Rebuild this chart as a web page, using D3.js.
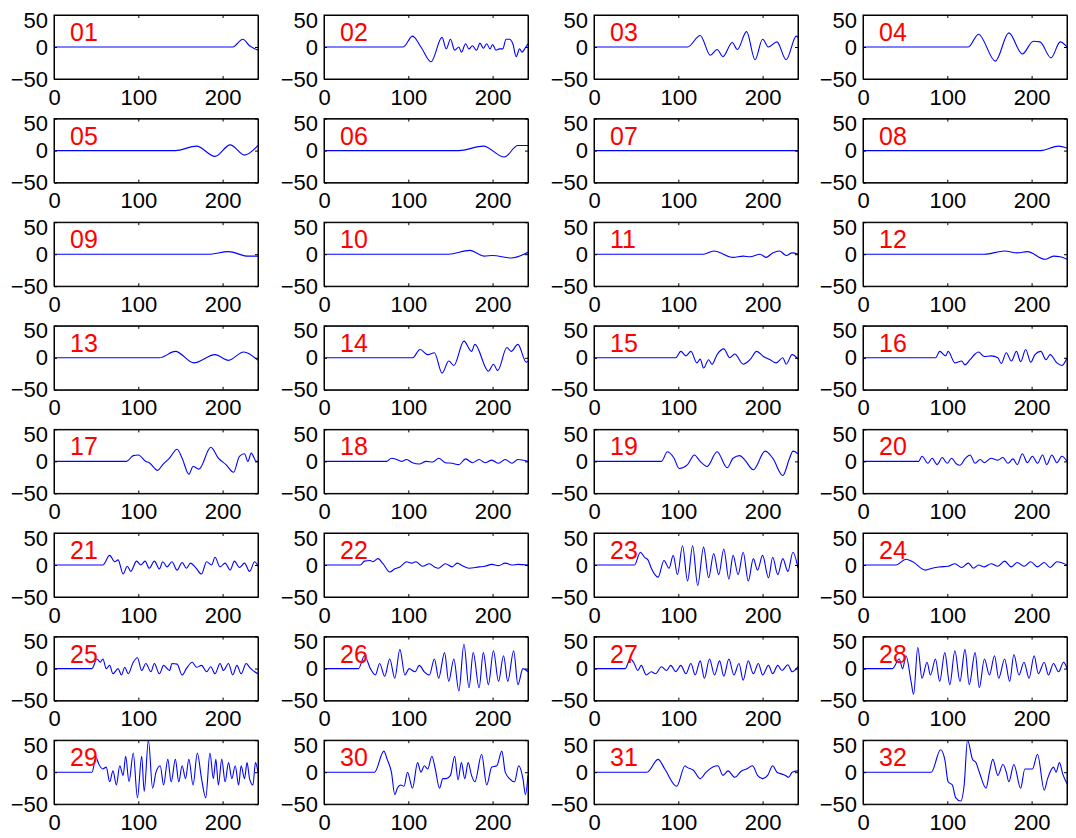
<!DOCTYPE html>
<html>
<head>
<meta charset="utf-8">
<script src="https://cdn.jsdelivr.net/npm/d3@7.9.0/dist/d3.min.js"></script>
<style>
  html, body { margin: 0; padding: 0; background: #fff; }
  svg { display: block; }
  .tick text { font-family: "Liberation Sans", Arial, sans-serif; font-size: 22px; fill: #000; }
  .tick line, .domain { stroke: #000; }
</style>
</head>
<body>
<div id="chart"></div>
<script>
// tick values and panel labels
const xTicks = [0, 100, 200];
const yTicks = [-50, 0, 50];
const panelLabels = ['01','02','03','04','05','06','07','08','09','10','11','12','13','14','15','16',
                     '17','18','19','20','21','22','23','24','25','26','27','28','29','30','31','32'];

// key points [sample, amplitude]
const s01 = [[0,0],[212,0],[224,12],[232,2],[242,-5]];
const s02 = [[0,0],[94,0],[105,17],[115,0],[127,-23],[140,15],[145,-3],[150,12],[155,-5],[160,0],[163,-8],
             [168,5],[172,-3],[176,2],[181,-5],[185,6],[189,-2],[193,5],[197,-3],[200,4],[204,-5],[208,-3],
             [212,-3],[216,12],[220,12],[224,5],[228,-15],[232,-3],[235,-8],[238,-3],[242,5]];
const s03 = [[0,0],[111,0],[126,18],[138,-13],[146,-4],[153,-15],[164,7],[170,-4],[181,24],[191,-20],
             [200,12],[207,0],[217,8],[228,-20],[240,17],[242,15]];
const s04 = [[0,0],[125,0],[137,20],[157,-22],[173,22],[189,-11],[202,9],[210,8],[223,-17],[234,8],[242,0]];
const s05 = [[0,0],[144,0],[169,7],[191,-9],[209,9],[226,-7],[242,8]];
const s06 = [[0,0],[160,0],[189,7],[214,-10],[230,8],[242,8]];
const s07 = [[0,0],[242,0]];
const s08 = [[0,0],[211,0],[232,7],[242,4]];
const s09 = [[0,0],[183,0],[207,4],[230,-3],[242,-3]];
const s10 = [[0,0],[148,0],[173,6],[190,-3],[200,-2],[222,-6],[242,3]];
const s11 = [[0,0],[130,0],[142,5],[165,-5],[177,-3],[185,-4],[197,0],[204,-5],[212,2],[220,5],[228,-2],
             [235,2],[242,0]];
const s12 = [[0,0],[144,0],[168,5],[183,2],[195,4],[216,-8],[226,-3],[234,-4],[242,-8]];
const s13 = [[0,0],[125,0],[144,10],[166,-8],[191,5],[207,-4],[225,9],[242,-4]];
const s14 = [[0,0],[105,0],[114,13],[123,5],[131,8],[140,-24],[148,-5],[154,-12],[166,26],[175,10],
             [179,21],[195,-21],[201,-10],[206,-20],[217,16],[222,10],[230,21],[240,-7],[242,-5]];
const s15 = [[0,0],[97,0],[103,10],[109,3],[115,10],[122,-8],[126,-2],[130,-16],[136,-3],[140,-10],
             [146,5],[154,14],[161,0],[167,6],[177,-10],[185,-3],[193,10],[201,2],[209,-3],[216,-8],
             [224,0],[228,-10],[235,5],[242,-2]];
const s16 = [[0,0],[86,0],[91,10],[98,3],[101,10],[109,-8],[117,-5],[121,-11],[127,-3],[133,6],[137,9],
             [144,2],[152,3],[160,0],[164,-9],[170,8],[176,-5],[182,10],[187,-6],[193,13],[199,-7],
             [204,5],[211,10],[217,-3],[222,5],[230,-8],[236,-12],[242,0]];
const s17 = [[0,0],[86,0],[94,9],[100,10],[109,0],[113,-2],[123,-14],[129,-5],[137,5],[146,19],[152,5],
             [160,-20],[165,-8],[172,-12],[186,22],[195,5],[204,-5],[213,-17],[220,8],[226,12],[230,0],
             [234,13],[240,0],[242,0]];
const s18 = [[0,0],[74,0],[80,5],[86,3],[92,0],[98,3],[105,-2],[113,-4],[121,0],[129,-1],[136,5],[144,-2],
             [152,-3],[160,-5],[168,4],[176,-2],[184,3],[191,-2],[199,2],[207,-3],[215,3],[223,-3],
             [230,3],[242,0]];
const s19 = [[0,0],[80,0],[87,15],[95,5],[101,-11],[111,-5],[119,10],[126,0],[134,-8],[146,15],[158,-10],
             [165,5],[173,9],[179,2],[189,-13],[203,16],[212,5],[224,-22],[232,5],[236,16],[242,12]];
const s20 = [[0,0],[66,0],[70,8],[77,-3],[82,5],[88,-5],[94,6],[100,-3],[105,5],[111,-4],[115,-6],
             [121,4],[127,10],[133,-3],[139,3],[144,-2],[152,5],[160,2],[166,6],[172,-3],[178,4],
             [183,-5],[189,12],[195,-2],[201,8],[207,-3],[213,10],[218,-5],[224,10],[230,-2],[236,8],[242,0]];
const s21 = [[0,0],[58,0],[66,15],[72,5],[76,8],[82,-14],[87,-2],[91,-10],[98,6],[103,0],[108,6],
             [113,-5],[119,6],[125,-6],[129,5],[134,-3],[140,5],[146,-8],[152,4],[157,-5],[162,3],
             [168,-4],[175,-14],[181,5],[187,0],[191,12],[197,-3],[203,3],[209,-8],[214,6],[220,-4],
             [226,3],[232,-10],[238,5],[242,-2]];
const s22 = [[0,0],[43,0],[48,6],[55,7],[58,5],[64,10],[70,2],[78,-11],[84,-6],[90,-3],[98,5],[104,3],
             [109,5],[117,-2],[125,2],[131,-3],[136,-5],[144,2],[152,-3],[158,3],[164,-1],[172,-5],
             [184,-3],[191,-2],[199,1],[207,-1],[215,3],[223,0],[230,1],[242,0]];
const s23 = [[0,0],[48,0],[55,20],[60,12],[64,8],[68,-5],[76,-19],[83,7],[89,-5],[94,15],[99,-15],
             [105,30],[111,-25],[117,30],[123,-32],[130,28],[136,-20],[142,18],[148,-15],[154,25],
             [160,-22],[165,15],[171,-15],[177,20],[183,-25],[189,10],[194,-8],[200,15],[207,-20],
             [212,12],[218,-15],[224,10],[230,-10],[236,20],[242,-5]];
const s24 = [[0,0],[39,0],[51,9],[59,5],[74,-8],[82,-5],[90,-3],[101,-2],[109,2],[117,-4],[125,3],
             [131,-5],[137,0],[144,-3],[152,2],[160,-2],[168,6],[176,-3],[183,4],[191,-2],[199,5],
             [207,-3],[215,4],[222,-4],[230,5],[242,0]];
const s25 = [[0,0],[45,0],[51,15],[55,10],[58,15],[62,0],[66,5],[70,-8],[76,0],[80,-10],[84,2],[88,-8],
             [94,10],[99,17],[104,-3],[109,8],[115,-5],[119,8],[125,-8],[130,5],[137,-3],[140,8],[146,7],
             [152,-10],[157,0],[164,10],[169,2],[175,5],[181,-5],[186,3],[191,-8],[197,8],[201,-3],
             [207,8],[212,-10],[217,5],[222,-8],[228,8],[232,2],[238,-5],[242,-8]];
const s26 = [[0,0],[41,0],[48,20],[55,0],[61,-10],[66,8],[72,-12],[78,15],[84,-15],[90,30],[96,-10],
             [101,0],[108,-5],[113,5],[119,-5],[125,-10],[131,15],[136,-15],[143,25],[148,-20],[154,15],
             [160,-35],[166,38],[172,-30],[177,25],[184,-30],[189,25],[195,-25],[201,28],[207,-20],
             [213,20],[218,-20],[225,28],[230,-25],[236,0],[242,-5]];
const s27 = [[0,0],[37,0],[43,15],[47,10],[52,-3],[56,5],[62,-10],[68,-5],[73,-8],[80,3],[86,-3],[91,5],
             [97,-5],[103,5],[109,-8],[115,8],[120,-10],[126,12],[131,-15],[137,15],[143,-10],[149,12],
             [154,-12],[160,15],[166,-10],[172,8],[177,-18],[183,12],[189,-8],[195,8],[200,-10],[207,5],
             [212,-8],[218,5],[223,-3],[230,6],[235,-5],[242,3]];
const s28 = [[0,0],[35,0],[43,15],[47,0],[51,20],[57,-20],[60,-40],[65,33],[70,-15],[76,10],[80,-10],
             [86,15],[91,-20],[97,25],[103,-25],[109,28],[115,-20],[121,30],[126,-25],[133,25],[138,-30],
             [144,15],[150,-10],[156,20],[161,-15],[168,15],[174,-20],[179,22],[185,-10],[191,10],
             [197,-15],[203,20],[208,-8],[215,10],[220,-10],[226,8],[232,-5],[238,10],[242,0]];
const s29 = [[0,0],[45,0],[50,23],[53,13],[58,5],[62,8],[66,-15],[70,2],[74,-20],[78,10],[82,-5],
             [85,25],[89,-15],[94,30],[99,-40],[104,25],[107,-30],[112,50],[117,-25],[121,0],[126,10],
             [130,-20],[135,20],[139,-15],[144,20],[148,-15],[152,10],[156,-10],[160,20],[165,-20],
             [170,30],[175,-10],[180,-40],[185,30],[189,-10],[192,20],[195,-20],[199,20],[203,-15],
             [207,15],[211,-10],[215,10],[219,-20],[222,10],[226,-10],[229,15],[232,-10],[236,-20],
             [239,15],[242,0]];
const s30 = [[0,0],[60,0],[71,33],[75,20],[80,0],[84,-35],[87,-25],[91,-20],[95,-22],[99,0],[105,-25],
             [111,15],[115,0],[119,10],[123,5],[128,25],[132,5],[137,-25],[141,-10],[145,-10],[150,-5],
             [155,25],[159,-12],[163,15],[167,-10],[171,15],[175,-5],[179,-15],[187,28],[193,-20],
             [199,8],[205,10],[211,33],[215,0],[220,-10],[226,-15],[231,10],[236,-10],[239,-35],[242,-5]];
const s31 = [[0,0],[63,0],[76,20],[84,5],[98,-22],[108,10],[110,8],[118,3],[126,-10],[133,0],[141,8],
             [147,10],[153,-5],[159,2],[167,-8],[175,2],[181,5],[188,10],[194,-5],[200,-10],[206,-5],
             [212,10],[217,0],[223,-3],[227,-5],[231,-8],[235,0],[242,2]];
const s32 = [[0,0],[81,0],[92,35],[97,20],[101,-15],[106,-20],[110,-40],[116,-45],[120,-20],[124,50],
             [130,20],[134,15],[138,0],[146,-25],[150,0],[154,20],[160,-5],[166,12],[170,0],[173,-15],
             [179,12],[187,-25],[192,5],[196,5],[201,5],[207,28],[215,-28],[219,-10],[226,8],[229,0],
             [233,15],[237,-3],[242,-18]];

const series = [s01,s02,s03,s04,s05,s06,s07,s08,s09,s10,s11,s12,s13,s14,s15,s16,
                s17,s18,s19,s20,s21,s22,s23,s24,s25,s26,s27,s28,s29,s30,s31,s32];

const W = 1076, H = 838;
const colLeft = [54, 324, 594, 863];
const rowTop0 = 15, rowStep = 103.6;
const pw = 204, ph = 64;

const svg = d3.select('#chart').append('svg')
  .attr('width', W).attr('height', H);

const x = d3.scaleLinear().domain([0, 242]).range([0, pw]);
const y = d3.scaleLinear().domain([-50, 50]).range([ph, 0]);

const line = d3.line()
  .x(d => x(d[0]))
  .y(d => y(d[1]))
  .curve(d3.curveMonotoneX);

const fmt = d => (d < 0 ? '\u2212' : '') + Math.abs(d);

svg.append('defs').append('clipPath').attr('id', 'clip')
  .append('rect').attr('width', pw).attr('height', ph);

series.forEach((s, i) => {
  const col = i % 4, row = Math.floor(i / 4);
  const g = svg.append('g')
    .attr('transform', `translate(${colLeft[col]},${rowTop0 + row * rowStep})`);

  // trace
  g.append('path')
    .datum(s)
    .attr('clip-path', 'url(#clip)')
    .attr('fill', 'none')
    .attr('stroke', '#0000ff')
    .attr('stroke-width', 1.1)
    .attr('d', line);

  // axes, ticks pointing inward
  g.append('g').attr('transform', `translate(0,${ph})`)
    .call(d3.axisBottom(x).tickValues(xTicks).tickSizeInner(-3).tickSizeOuter(0).tickPadding(10));
  g.append('g')
    .call(d3.axisTop(x).tickValues(xTicks).tickSizeInner(-3).tickSizeOuter(0).tickFormat(''));
  const ya = g.append('g')
    .call(d3.axisLeft(y).tickValues(yTicks).tickSizeInner(-3).tickSizeOuter(0).tickPadding(6).tickFormat(fmt));
  ya.selectAll('.tick text').attr('dy', d => d === 50 ? '0.55em' : '0.32em');
  g.append('g').attr('transform', `translate(${pw},0)`)
    .call(d3.axisRight(y).tickValues(yTicks).tickSizeInner(-3).tickSizeOuter(0).tickFormat(''));

  g.append('rect')
    .attr('width', pw).attr('height', ph)
    .attr('fill', 'none').attr('stroke', '#000').attr('stroke-width', 1);

  g.append('text')
    .attr('x', 16).attr('y', 26)
    .attr('fill', '#ff0000')
    .style('font-family', '"Liberation Sans", Arial, sans-serif')
    .style('font-size', '25px')
    .text(panelLabels[i]);
});
</script>
</body>
</html>
